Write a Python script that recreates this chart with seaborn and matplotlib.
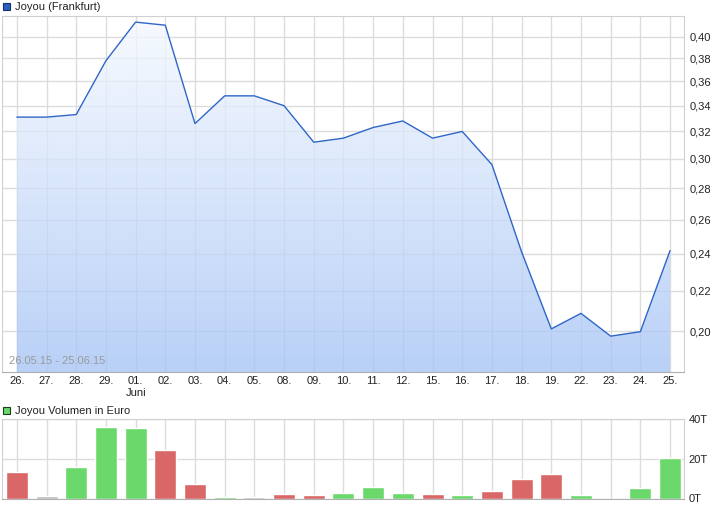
import numpy as np
import pandas as pd
import matplotlib
matplotlib.use("Agg")
import matplotlib.pyplot as plt
import seaborn as sns
from matplotlib.patches import Rectangle
from matplotlib.colors import LinearSegmentedColormap
from matplotlib.ticker import FixedLocator, FuncFormatter, NullLocator

# data
days = ["26.", "27.", "28.", "29.", "01.", "02.", "03.", "04.", "05.", "08.", "09.", "10.",
        "11.", "12.", "15.", "16.", "17.", "18.", "19.", "22.", "23.", "24.", "25."]
price = [0.331, 0.331, 0.333, 0.378, 0.414, 0.411, 0.326, 0.348, 0.348, 0.340, 0.312, 0.315,
         0.323, 0.328, 0.315, 0.320, 0.296, 0.241, 0.201, 0.2085, 0.1976, 0.1997, 0.2417]
volume = [13200, 1200, 15800, 36100, 35600, 24400, 7100, 1000, 700, 2200, 1700, 2600,
          5600, 2600, 2200, 1700, 3600, 9700, 12200, 1700, 0, 5300, 20600]
direction = ["down", "flat", "up", "up", "up", "down", "down", "up", "flat", "down", "down", "up",
             "up", "up", "down", "up", "down", "down", "down", "up", "down", "up", "up"]
price_ticks = [0.20, 0.22, 0.24, 0.26, 0.28, 0.30, 0.32, 0.34, 0.36, 0.38, 0.40]
vol_ticks = [0, 20000, 40000]
vol_labels = ["0T", "20T", "40T"]

df = pd.DataFrame({"pos": np.arange(len(days)), "day": days, "price": price,
                   "volume": volume, "dir": direction})

sns.set_style("white")
plt.rcParams["font.family"] = ["Liberation Sans", "DejaVu Sans"]

W, H = 726, 508
fig = plt.figure(figsize=(W / 100, H / 100), dpi=100)

def fx(px):
    return px / W

def fy(py):
    return 1 - py / H

ax = fig.add_axes([fx(2), fy(372), fx(682), 356 / H])
axv = fig.add_axes([fx(2), fy(498.5), fx(682), 79.5 / H])

# price chart
sns.lineplot(data=df, x="pos", y="price", ax=ax, color="#2f66c8", linewidth=1.0, zorder=3)
ax.set_yscale("log")
ax.set_ylim(0.1816, 0.42)
ax.set_xlim(-0.5, 22.47)
fill = ax.fill_between(df["pos"], df["price"], 0.1816, color="none", linewidth=0)
# semi-transparent gradient drawn over the grid
cmap = LinearSegmentedColormap.from_list("g", ["#a5c3f5", "#f6faff"])
grad = np.linspace(0, 1, 256).reshape(-1, 1)
img = ax.imshow(grad, cmap=cmap, aspect="auto", extent=[0, 1, 0, 1], origin="lower",
                transform=ax.transAxes, zorder=1, alpha=0.78)
img.set_clip_path(fill.get_paths()[0], transform=ax.transData)

ax.yaxis.tick_right()
ax.yaxis.set_major_locator(FixedLocator(price_ticks))
ax.yaxis.set_minor_locator(NullLocator())
ax.yaxis.set_major_formatter(FuncFormatter(lambda v, p: f"{v:.2f}".replace(".", ",")))
ax.set_xticks(df["pos"])
ax.set_xticklabels([d + "\nJuni" if i == 4 else d for i, d in enumerate(days)])
ax.tick_params(axis="both", length=0, labelsize=8, colors="#222222")
ax.tick_params(axis="y", pad=4)
ax.tick_params(axis="x", pad=3)
ax.grid(True, color="#dcdcdc", linewidth=1, zorder=0.5)
ax.set_axisbelow(True)
ax.set_xlabel("")
ax.set_ylabel("")
for s in ax.spines.values():
    s.set_color("#d0d0d0")
ax.spines["bottom"].set_color("#b0b0b0")
ax.text(0.01, 0.018, "26.05.15 - 25.06.15", transform=ax.transAxes, fontsize=8,
        color="#9a9a9a", va="bottom", ha="left", zorder=4)

# volume chart
pal = {"down": "#d96767", "up": "#6ad86a", "flat": "#bdbdbd"}
sns.barplot(data=df, x="pos", y="volume", hue="dir", palette=pal, dodge=False,
            width=0.74, ax=axv, legend=False, order=list(df["pos"]), saturation=1)
axv.set_xlim(-0.5, 22.47)
axv.set_ylim(0, 40000)
axv.yaxis.tick_right()
axv.set_yticks(vol_ticks)
axv.set_yticklabels(vol_labels)
axv.set_xticks(df["pos"])
axv.set_xticklabels([])
axv.tick_params(axis="both", length=0, labelsize=8, colors="#222222")
axv.grid(True, color="#dcdcdc", linewidth=1)
axv.set_axisbelow(True)
axv.set_xlabel("")
axv.set_ylabel("")
for s in axv.spines.values():
    s.set_color("#d0d0d0")
axv.spines["bottom"].set_color("#b0b0b0")

# legend squares
fig.add_artist(Rectangle((fx(3), fy(10)), 7 / W, 7 / H, transform=fig.transFigure,
                         facecolor="#2a5fc0", edgecolor="#1a2f66", linewidth=0.8))
fig.text(fx(15), fy(6.5), "Joyou (Frankfurt)", fontsize=8, va="center", ha="left",
         color="#222222")
fig.add_artist(Rectangle((fx(3), fy(414)), 7 / W, 7 / H, transform=fig.transFigure,
                         facecolor="#6ad86a", edgecolor="#1d3d1d", linewidth=0.8))
fig.text(fx(15), fy(410.5), "Joyou Volumen in Euro", fontsize=8, va="center", ha="left",
         color="#222222")

fig.savefig("out.png", dpi=100)
